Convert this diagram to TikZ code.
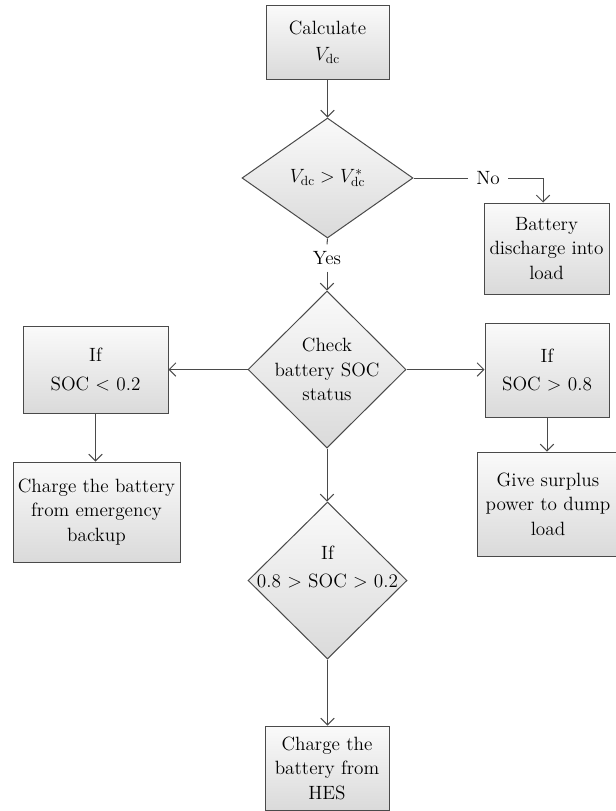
\documentclass[tikz,border=0pt]{standalone}
\usepackage{fontspec}
\usetikzlibrary{shapes.geometric,arrows.meta}
\definecolor{linec}{HTML}{4A4A4A}
\definecolor{filltop}{HTML}{FAFAFA}
\definecolor{fillb}{HTML}{DADADA}
\begin{document}
\begin{tikzpicture}[x=0.75pt,y=-0.75pt,
  font=\fontsize{14.4}{18.4}\selectfont,
  box/.style={draw=linec, line width=0.75pt, top color=filltop, bottom color=fillb, align=center, inner sep=0pt},
  dia/.style={draw=linec, line width=0.75pt, top color=filltop, bottom color=fillb, diamond, inner sep=0pt},
  lbl/.style={align=center, inner sep=0pt},
  arr/.style={draw=linec, line width=0.75pt, -{Straight Barb[length=5pt,width=10pt]}},
  ln/.style={draw=linec, line width=0.75pt}]
\useasboundingbox (0,0) rectangle (616,811);

% boxes
\node[box, minimum width=92.25pt, minimum height=55.5pt] (calc) at (327.5,42) {Calculate\\[1pt] $V_{\mathrm{dc}}$};
\node[dia, minimum width=128.25pt, minimum height=90pt] (d1) at (327.5,178) {};
\node[lbl] (d1t) at (327.5,178) {$V_{\mathrm{dc}} > V^{*}_{\mathrm{dc}}$};
\node[box, minimum width=93.75pt, minimum height=68.25pt] (dis) at (546.5,248.5) {Battery\\ discharge into\\ load};
\node[dia, minimum width=118.5pt, minimum height=117.75pt] (d2) at (327,369.5) {};
\node[lbl] (d2t) at (327,369.5) {Check\\ battery SOC\\ status};
\node[box, minimum width=108.75pt, minimum height=65.25pt] (soclow) at (95.5,369.5) {If\\[3pt] SOC $<$ 0.2};
\node[box, minimum width=93pt, minimum height=70.5pt] (sochigh) at (547,370) {If\\[3pt] SOC $>$ 0.8};
\node[box, minimum width=125.25pt, minimum height=75pt] (emerg) at (96.5,512) {Charge the battery\\ from emergency\\ backup};
\node[box, minimum width=106.5pt, minimum height=78pt] (surplus) at (548,504) {Give surplus\\ power to dump\\ load};
\node[dia, minimum width=119.25pt, minimum height=117.75pt] (d3) at (327.5,580.5) {};
\node[lbl] (d3t) at (327.5,567) {If\\[3pt] 0.8 $>$ SOC $>$ 0.2};
\node[box, minimum width=93pt, minimum height=63pt] (final) at (327,768) {Charge the\\ battery from\\ HES};

% labels on connectors
\node[lbl, inner xsep=6pt] (no) at (488,178) {No};
\node[lbl, inner ysep=5pt] (yes) at (327,258) {Yes};
\coordinate (nocorner) at (543,178);

% connectors
\draw[arr] (calc.south) -- (calc.south |- d1.north);
\draw[ln] (d1.east) -- (no.west);
\draw[arr] (no.east) -- (nocorner) -- (nocorner |- dis.north);
\draw[ln] (d1.south) -- (yes.north);
\draw[arr] (yes.south) -- (yes.south |- d2.north);
\draw[arr] (d2.west) -- (d2.west -| soclow.east);
\draw[arr] (d2.east) -- (d2.east -| sochigh.west);
\draw[arr] (d2.south) -- (d2.south |- d3.north);
\draw[arr] (soclow.south) -- (soclow.south |- emerg.north);
\draw[arr] (sochigh.south) -- (sochigh.south |- surplus.north);
\draw[arr] (d3.south) -- (d3.south |- final.north);
\end{tikzpicture}
\end{document}
